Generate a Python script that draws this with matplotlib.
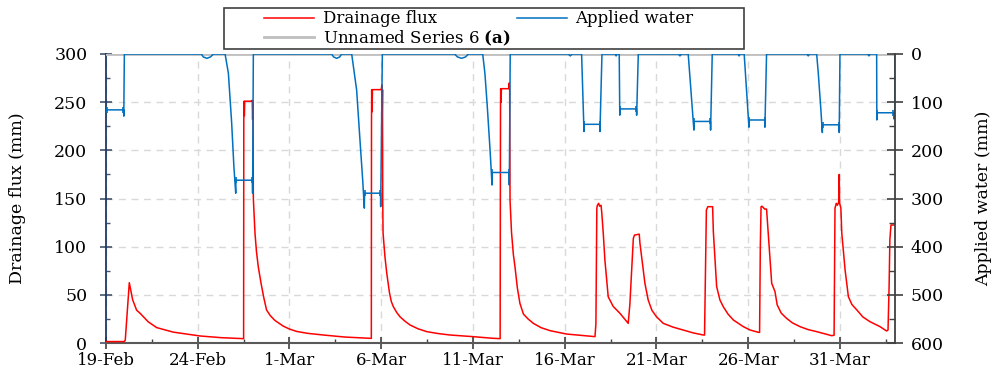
import matplotlib
matplotlib.use("Agg")
import matplotlib.pyplot as plt
from matplotlib.ticker import MultipleLocator, FixedLocator
from matplotlib.lines import Line2D
from matplotlib.patches import Rectangle

plt.rcParams["font.family"] = ["DejaVu Serif"]
plt.rcParams["mathtext.fontset"] = "dejavuserif"

# ---- x axis: days since 19-Feb ----
tick_days = [0, 5, 10, 15, 20, 25, 30, 35, 40]
tick_labels = ["19-Feb", "24-Feb", "1-Mar", "6-Mar", "11-Mar",
               "16-Mar", "21-Mar", "26-Mar", "31-Mar"]

# ---- Drainage flux (mm), left axis ----
drain_day = [
    0.0, 1.0, 1.05, 1.27, 1.45, 1.67, 1.85, 2.3, 2.76, 3.66, 5.12, 6.3, 7.4, 7.5,
    7.51, 7.52, 7.54, 7.56, 7.6, 7.9, 7.97, 7.99, 8.01, 8.03,
    8.12, 8.2, 8.3, 8.45, 8.6, 8.75, 8.95, 9.2, 9.66, 10.0, 10.39, 11.0, 11.84,
    13.0, 14.38, 14.46,
    14.47, 14.48, 14.5, 14.52, 14.55, 15.0, 15.04, 15.05, 15.07, 15.08, 15.1,
    15.2, 15.3, 15.45, 15.55, 15.66, 15.85, 16.02, 16.3, 16.57, 17.0, 17.48,
    18.1, 18.75, 20.0, 21.0, 21.48,
    21.5, 21.51, 21.53, 21.55, 21.95, 21.98, 22.0, 22.02, 22.1, 22.2, 22.29,
    22.42, 22.56, 22.75, 23.0, 23.29, 23.7, 24.2, 25.1, 26.65,
    26.7, 26.75, 26.78, 26.85, 26.9, 26.98, 27.02, 27.1, 27.19, 27.37, 27.64,
    28.01, 28.3, 28.46,
    28.55, 28.74, 28.8, 29.06, 29.1, 29.37, 29.55, 29.75, 30.0, 30.37, 30.9,
    31.46, 32.0, 32.55, 32.62,
    32.66, 32.72, 32.8, 33.06, 33.1, 33.28, 33.46, 33.64, 33.9, 34.19, 34.73,
    35.1, 35.55, 35.62,
    35.66, 35.7, 35.75, 35.9, 36.0, 36.09, 36.28, 36.46, 36.58, 36.8, 37.09,
    37.4, 37.82, 38.25, 38.73, 39.55, 39.68,
    39.73, 39.8, 39.86, 39.93, 39.96, 39.98, 40.05, 40.1, 40.28, 40.46, 40.65,
    40.92, 41.25, 41.64, 42.18, 42.54, 42.62,
    42.68, 42.72, 42.78, 43.0,
]
drain_mm = [
    1.5, 1.5, 3, 62.6, 45, 34, 31, 22, 16, 11.3, 7.3, 5.5, 4.5, 4.5,
    230, 251, 236, 251, 251, 251, 252, 232, 251, 150,
    114, 95, 79, 62, 47, 34.3, 28.5, 23.5, 17.5, 14.5, 12, 10, 8.3,
    6.2, 4.8, 4.8,
    230, 263, 240, 263, 263, 263, 268, 232, 263, 150, 114,
    90, 72.6, 52, 43, 37.7, 31.5, 27.3, 22.5, 18.7, 14.8, 11.8,
    9.8, 8.3, 6.6, 5.0, 4.5,
    240, 264, 250, 264, 264, 270, 262, 148, 115, 92, 79,
    57, 41, 30, 25, 20.4, 16, 12.8, 9.3, 6.6,
    20, 140, 143, 145, 142, 143, 135, 114, 86, 48, 38,
    30.8, 24, 20.4,
    40, 108.7, 112, 113, 103.5, 62, 44.6, 34, 27.3, 20.4, 16.5,
    13.5, 10.5, 8.3, 8.3,
    60, 138, 141.5, 141.5, 115.6, 58.5, 44.6, 37.7, 30, 23.9, 17,
    13.5, 11.1, 11,
    100, 141.5, 142, 139, 139, 114, 62, 53.3, 39.5, 31, 25.6,
    21, 17, 14, 11.8, 7.6, 8,
    140, 145, 143, 146, 175, 145, 140, 114, 75.8, 48, 40,
    34.3, 27, 22.1, 17, 12.5, 13.5,
    60, 107, 122.5, 122.5,
]

# ---- Applied water (mm), right axis (inverted) ----
water_day = [
    0.0, 0.96, 0.97, 1.0,
    5.2, 5.3, 5.5, 5.7, 5.85,
    6.49, 6.67, 6.85, 6.97, 7.07, 7.08, 7.98, 7.99, 8.03,
    12.3, 12.4, 12.57, 12.74, 12.84,
    13.39, 13.66, 13.84, 13.99, 14.08, 14.09, 14.96, 14.97, 15.06,
    19.0, 19.15, 19.38, 19.6, 19.75,
    20.53, 20.65, 20.78, 20.93, 21.04, 21.05, 21.97, 21.98, 22.03,
    25.2, 25.3, 25.4,
    25.92, 26.05, 26.06, 26.91, 26.92, 27.03,
    27.75, 27.8, 27.85,
    27.97, 28.0, 28.01, 28.91, 28.92, 29.01,
    31.2, 31.28, 31.36,
    31.73, 32.04, 32.05, 32.94, 32.95, 33.04,
    34.45, 34.5, 34.55,
    34.78, 35.04, 35.05, 35.9, 35.91, 36.0,
    38.2, 38.27, 38.34,
    38.73, 38.82, 38.95, 39.04, 39.05, 39.95, 39.96, 40.0,
    41.52, 41.58, 41.64,
    42.0, 42.01, 42.02, 42.92, 42.95, 42.99, 43.0,
]
water_mm = [
    116, 116, 129, 0,
    0, 6, 9, 6, 0,
    0, 40, 144, 234, 289, 262, 262, 289, 0,
    0, 6, 9, 6, 0,
    0, 75, 178, 262, 320, 289, 289, 317, 0,
    0, 6, 9, 6, 0,
    0, 40, 109, 199, 272, 246, 246, 272, 0,
    0, 4, 0,
    0, 161, 146, 146, 161, 0,
    0, 4, 0,
    0, 127, 114, 114, 127, 0,
    0, 4, 0,
    0, 158, 140, 140, 158, 0,
    0, 4, 0,
    0, 152, 137, 137, 152, 0,
    0, 4, 0,
    0, 40, 110, 163, 147, 147, 163, 0,
    0, 4, 0,
    0, 137, 122, 122, 135, 125, 0,
]
# end caps on each irrigation plateau
cap_day = [0.03, 0.95, 7.08, 7.97, 14.09, 14.95, 21.05, 21.96, 26.06, 26.9,
           28.01, 28.9, 32.05, 32.93, 35.05, 35.89, 39.05, 39.94, 42.02, 42.9]
cap_mm = [116, 116, 262, 262, 289, 289, 246, 246, 146, 146,
          114, 114, 140, 140, 137, 137, 147, 147, 122, 122]

# ---- Unnamed Series 6 ----
series6_day = [0, 43]
series6_mm = [0, 0]

RED = "#ff0000"
BLUE = "#0070c0"
GREY = "#bfbfbf"
FS_Y = 12.5
FS_X = 12
FS_LEG = 12

fig = plt.figure(figsize=(9.96, 3.71), dpi=100)
ax = fig.add_axes([106 / 996, 28 / 371, 789 / 996, 289 / 371])
ax2 = ax.twinx()

ax.set_xlim(0, 43)
ax.set_ylim(0, 300)
ax2.set_ylim(600, 0)

ax.set_axisbelow(True)
ax.grid(True, which="major", color="#d9d9d9", linestyle=(0, (5, 4)), linewidth=1.0)

ax.plot(drain_day, drain_mm, color=RED, lw=1.1, zorder=3)
ax2.plot(series6_day, series6_mm, color=GREY, lw=2.0, zorder=1)
ax2.plot(water_day, water_mm, color=BLUE, lw=1.1, zorder=2)
ax2.plot(cap_day, cap_mm, linestyle="none", marker="|", markersize=5,
         markeredgewidth=1.2, color=BLUE, zorder=2)

# x axis
ax.xaxis.set_major_locator(FixedLocator(tick_days))
ax.set_xticklabels(tick_labels)
ax.xaxis.set_minor_locator(MultipleLocator(2.5))
ax.tick_params(axis="x", which="major", direction="inout", length=9,
               width=1.2, color="#404040", labelsize=FS_X, pad=2)
ax.tick_params(axis="x", which="minor", direction="in", length=3,
               width=1.0, color="#404040")

# left axis
ax.yaxis.set_major_locator(MultipleLocator(50))
ax.yaxis.set_minor_locator(MultipleLocator(25))
ax.tick_params(axis="y", which="major", direction="inout", length=9,
               width=1.2, color="#44546a", labelsize=FS_Y, pad=9)
ax.tick_params(axis="y", which="minor", direction="in", length=3,
               width=1.0, color="#44546a")
ax.set_ylabel("Drainage flux (mm)", fontsize=FS_Y, labelpad=20)

# right axis
ax2.yaxis.set_major_locator(MultipleLocator(100))
ax2.yaxis.set_minor_locator(MultipleLocator(50))
ax2.tick_params(axis="y", which="major", direction="inout", length=11,
                width=1.2, color="#404040", labelsize=FS_Y, pad=6)
ax2.tick_params(axis="y", which="minor", direction="in", length=4,
                width=1.0, color="#404040")
ax2.set_ylabel("Applied water (mm)", fontsize=FS_Y, labelpad=22)

for a in (ax, ax2):
    a.spines["top"].set_visible(False)
ax2.spines["left"].set_visible(False)
ax2.spines["bottom"].set_visible(False)
ax.spines["left"].set_color("#1f3864")
ax.spines["left"].set_linewidth(1.3)
ax.spines["bottom"].set_color("#595959")
ax.spines["bottom"].set_linewidth(1.5)
ax.spines["right"].set_visible(False)
ax2.spines["right"].set_color("#404040")
ax2.spines["right"].set_linewidth(1.3)

# legend with its own frame
fig.patches.append(Rectangle((224 / 996, 322 / 371), 520 / 996, 41 / 371,
                             transform=fig.transFigure, facecolor="white",
                             edgecolor="#404040", linewidth=1.2, zorder=5))
handles = [Line2D([], [], color=RED, lw=1.1),
           Line2D([], [], color=GREY, lw=2.0),
           Line2D([], [], color=BLUE, lw=1.1)]
labels = ["Drainage flux", r"Unnamed Series 6 $\mathbf{(a)}$", "Applied water"]
leg = fig.legend(handles, labels, loc="center", bbox_to_anchor=(479 / 996, 342 / 371),
                 ncol=2, frameon=False, fontsize=FS_LEG, handlelength=3.0,
                 handletextpad=0.5, columnspacing=0.4, labelspacing=0.05,
                 borderpad=0.1)
leg.set_zorder(6)

fig.savefig("out.png", dpi=100)
